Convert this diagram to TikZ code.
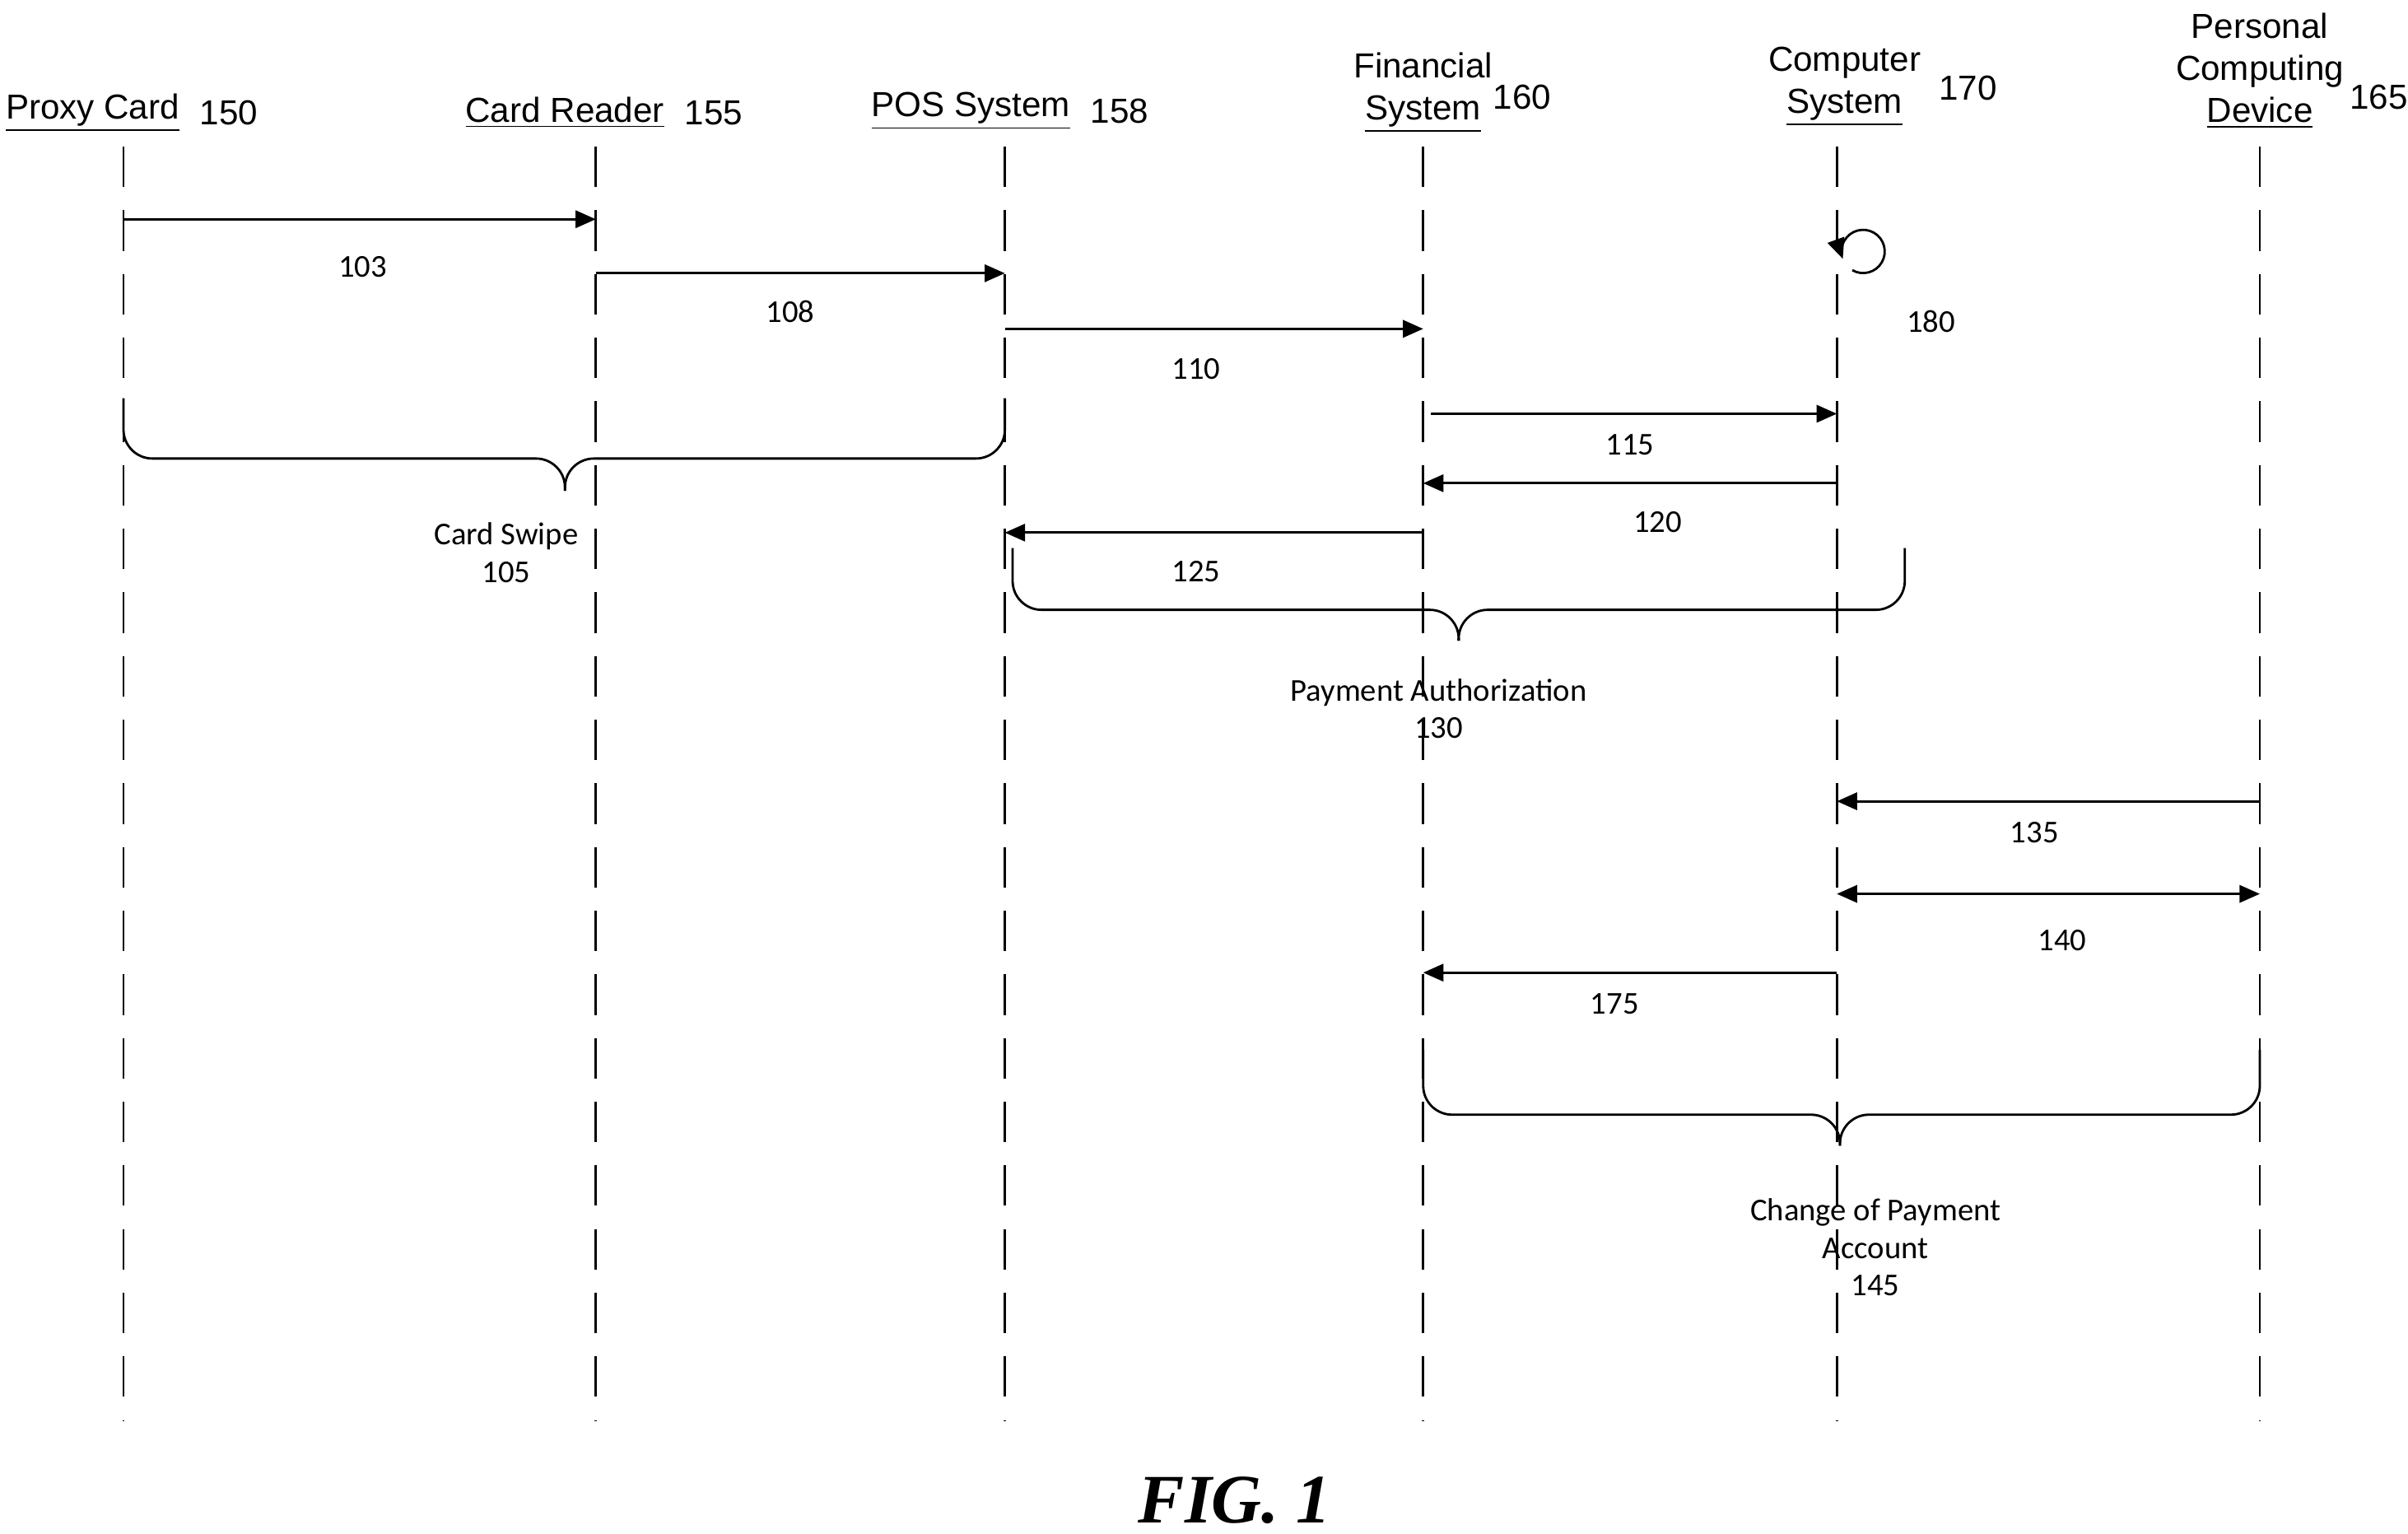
\documentclass[tikz,border=0pt]{standalone}
\usepackage{fontspec}
\setmainfont{Carlito}
\newfontfamily\hdrfont{Liberation Sans}
\newfontfamily\figfont{Liberation Serif}
\usetikzlibrary{positioning,arrows.meta,calc}

\tikzset{
  life/.style={dash pattern=on 14pt off 8pt, line width=0.8pt},
  msg/.style={line width=0.8pt, -{Triangle[length=7pt,width=6pt]}},
  lbl/.style={font=\fontsize{11}{13}\selectfont},
  hdr/.style={font=\hdrfont\fontsize{12}{14.5}\selectfont, align=center},
  brc/.style={line width=0.8pt, rounded corners=10pt},
}

\begin{document}
\begin{tikzpicture}[x=0.1875mm,y=-0.1875mm]
\useasboundingbox (0,0) rectangle (1560,993.6);

% lifelines
\foreach \n/\x in {pc/80,cr/386,pos/651,fs/922,cs/1190,pd/1464}{
  \coordinate (\n) at (\x,0);
  \draw[life] (\x,95) -- (\x,920);
}

% headers
\node[hdr] (hpc) at (60,73) {\underline{Proxy Card}};
\node[hdr, right=0pt of hpc] {150};
\node[hdr] (hcr) at (366,73) {\underline{Card Reader}};
\node[hdr, right=0pt of hcr] {155};
\node[hdr] (hpos) at (629,72) {\underline{POS System}};
\node[hdr, right=0pt of hpos] {158};
\node[hdr] (hfs) at (922,60) {Financial\\\underline{System}};
\node[hdr] at (986,63) {160};
\node[hdr] (hcs) at (1195,56) {Computer\\\underline{System}};
\node[hdr] at (1275,57) {170};
\node[hdr] (hpd) at (1464,46) {Personal\\Computing\\\underline{Device}};
\node[hdr] at (1541,63) {165};

% messages
\draw[msg] (pc |- 0,142) -- (cr |- 0,142);
\node[lbl] at (235,173) {103};
\draw[msg] (cr |- 0,177) -- (pos |- 0,177);
\node[lbl] at (512,202) {108};
\draw[msg] (pos |- 0,213) -- (fs |- 0,213);
\node[lbl] at (775,239) {110};
\draw[msg] (927,268) -- (cs |- 0,268);
\node[lbl] at (1056,288) {115};
\draw[msg] (cs |- 0,313) -- (fs |- 0,313);
\node[lbl] at (1074,338) {120};
\draw[msg] (fs |- 0,345) -- (pos |- 0,345);
\node[lbl] at (775,370) {125};
\draw[msg] (pd |- 0,519) -- (cs |- 0,519);
\node[lbl] at (1318,539) {135};
\draw[msg, {Triangle[length=7pt,width=6pt]}-{Triangle[length=7pt,width=6pt]}] (cs |- 0,579) -- (pd |- 0,579);
\node[lbl] at (1336,609) {140};
\draw[msg] (cs |- 0,630) -- (fs |- 0,630);
\node[lbl] at (1046,650) {175};

% self loop
\draw[msg] (1200,175) arc[start angle=120, end angle=-200, x radius=14, y radius=14];
\node[lbl] at (1251,208) {180};

% braces
\draw[brc] (80,258) -- (80,297) -- (366,297) -- (366,318);
\draw[brc] (366,318) -- (366,297) -- (651,297) -- (651,258);
\node[lbl, align=center] at (328,358) {Card Swipe\\105};
\draw[brc] (656,355) -- (656,395) -- (945,395) -- (945,415);
\draw[brc] (945,415) -- (945,395) -- (1234,395) -- (1234,355);
\node[lbl, align=center] at (932,459) {Payment Authorization\\130};
\draw[brc] (922,680) -- (922,722) -- (1192,722) -- (1192,742);
\draw[brc] (1192,742) -- (1192,722) -- (1464,722) -- (1464,680);
\node[lbl, align=center] at (1215,808) {Change of Payment\\Account\\145};

\node[font=\figfont\bfseries\itshape\fontsize{24}{28}\selectfont] at (800,972) {FIG. 1};
\end{tikzpicture}
\end{document}
